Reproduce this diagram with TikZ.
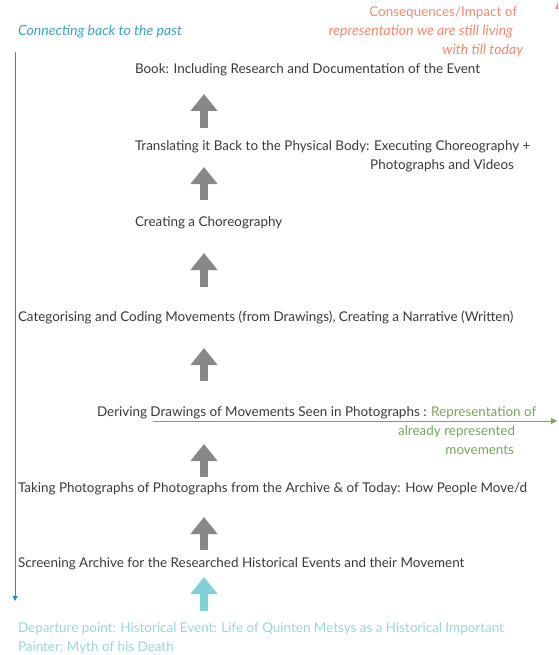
\documentclass[tikz,border=0pt]{standalone}
\usepackage{fontspec}
\setmainfont{Lato}
\usetikzlibrary{arrows.meta}
\definecolor{txt}{HTML}{3A3A3A}
\definecolor{blueline}{HTML}{1C93C2}
\definecolor{bluetxt}{HTML}{3AA5C8}
\definecolor{orangetxt}{HTML}{F4896B}
\definecolor{greentxt}{HTML}{78A55A}
\definecolor{tealarrow}{HTML}{7FD1D6}
\definecolor{tealtxt}{HTML}{97D7DB}
\definecolor{grayarrow}{HTML}{888888}
\tikzset{
  lbl/.style={anchor=base west, inner sep=0pt, outer sep=0pt, font=\fontsize{13.45}{15}\selectfont, text=txt},
  itlbl/.style={lbl, font=\fontsize{14.1}{15}\selectfont\itshape},
  bigarrow/.style={draw=grayarrow, line width=8pt, -{Triangle[width=26pt,length=17pt]}},
}
\begin{document}
\begin{tikzpicture}[x=1pt,y=-1pt]
\useasboundingbox (0,0) rectangle (558,655);
% top-left label and timeline
\node[itlbl, text=bluetxt] (past) at (18,36) {Connecting back to the past};
\coordinate (tlTop) at (15,52);
\coordinate (tlBot) at (15,601);
\draw[blueline, line width=1pt, -{Triangle[width=5pt,length=5pt]}] (tlTop) -- (tlBot);
% orange top-right
\node[lbl, anchor=base east, text=orangetxt] (cons1) at (517,17) {Consequences/Impact of};
\node[itlbl, anchor=base east, text=orangetxt] (cons2) at (513,36) {representation we are still living};
\node[itlbl, anchor=base east, text=orangetxt] (cons3) at (523,55) {with till today};
\fill[orangetxt] (555,9) -- (558,2) -- (558,9) -- cycle;
% steps
\node[lbl] (book) at (135,74) {Book: Including Research and Documentation of the Event};
\node[lbl] (trans) at (135,150) {Translating it Back to the Physical Body: Executing Choreography +};
\node[lbl, anchor=base east] (trans2) at (514,169) {Photographs and Videos};
\node[lbl] (chor) at (135,226) {Creating a Choreography};
\node[lbl] (cat) at (18,321) {Categorising and Coding Movements (from Drawings), Creating a Narrative (Written)};
\node[lbl] (der) at (97,416) {Deriving Drawings of Movements Seen in Photographs : \textcolor{greentxt}{Representation of}};
\node[lbl, anchor=base east, text=greentxt] (der2) at (515,435) {already represented};
\node[lbl, anchor=base east, text=greentxt] (der3) at (514,454) {movements};
\node[lbl] (take) at (18,492) {Taking Photographs of Photographs from the Archive \& of Today: How People Move/d};
\node[lbl] (screen) at (18,567) {Screening Archive for the Researched Historical Events and their Movement};
\node[lbl, text=tealtxt] (dep) at (18,632) {Departure point: Historical Event: Life of Quinten Metsys as a Historical Important};
\node[lbl, text=tealtxt] (dep2) at (18,651) {Painter; Myth of his Death};
% green line
\coordinate (gStart) at (153,421);
\coordinate (gEnd) at (557,421);
\draw[greentxt, line width=1pt, -{Triangle[width=6pt,length=6pt]}] (gStart) -- (gEnd);
% big arrows
\coordinate (a1b) at (204,128); \coordinate (a1t) at (204,94);
\coordinate (a2b) at (204,200); \coordinate (a2t) at (204,167);
\coordinate (a3b) at (204,287); \coordinate (a3t) at (204,253);
\coordinate (a4b) at (204,381); \coordinate (a4t) at (204,348);
\coordinate (a5b) at (204,477); \coordinate (a5t) at (204,444);
\coordinate (a6b) at (204,550); \coordinate (a6t) at (204,517);
\coordinate (a7b) at (204,611); \coordinate (a7t) at (204,577);
\draw[bigarrow] (a1b) -- (a1t);
\draw[bigarrow] (a2b) -- (a2t);
\draw[bigarrow] (a3b) -- (a3t);
\draw[bigarrow] (a4b) -- (a4t);
\draw[bigarrow] (a5b) -- (a5t);
\draw[bigarrow] (a6b) -- (a6t);
\draw[bigarrow, draw=tealarrow] (a7b) -- (a7t);
\end{tikzpicture}
\end{document}
